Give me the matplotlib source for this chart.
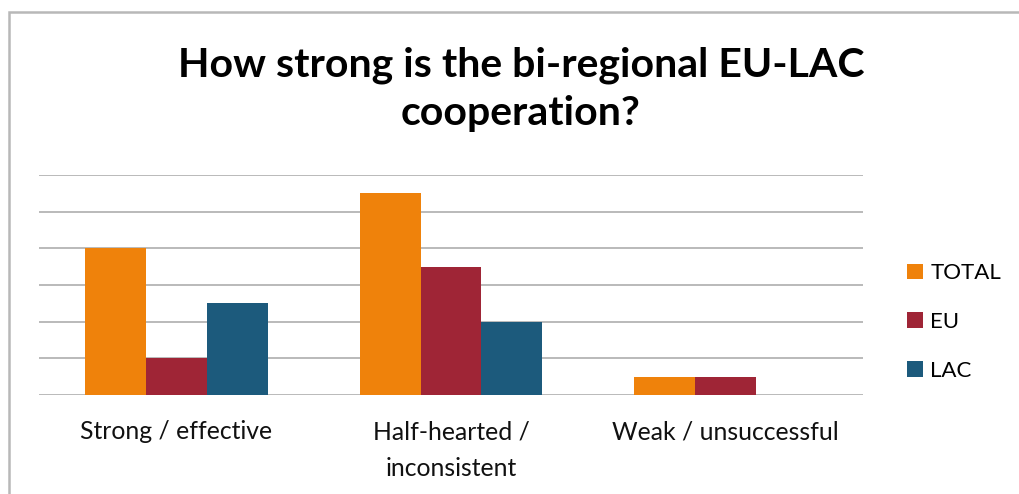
import numpy as np
import matplotlib.pyplot as plt
from matplotlib.patches import Patch, Rectangle

plt.rcParams['font.family'] = ['Lato', 'DejaVu Sans']

categories = ["Strong / effective", "Half-hearted /\ninconsistent", "Weak / unsuccessful"]
series = ["TOTAL", "EU", "LAC"]
total = [4, 5.5, 0.5]
eu = [1, 3.5, 0.5]
lac = [2.5, 2, 0]
colors = ["#EF820B", "#9F2536", "#1C5A7C"]

fig = plt.figure(figsize=(10.19, 4.94), dpi=100)
ax = fig.add_axes([39 / 1019, 99 / 494, 824 / 1019, 220 / 494])

x = np.arange(len(categories))
w = 0.222
for i, (vals, c) in enumerate(zip([total, eu, lac], colors)):
    ax.bar(x + (i - 1) * w, vals, width=w, color=c, zorder=3)

ax.set_xlim(-0.5, 2.5)
ax.set_ylim(0, 6)
ax.set_yticks(range(7))
ax.set_yticklabels([])
ax.grid(axis='y', color='#b4b4b4', linewidth=1.3, zorder=0)
ax.tick_params(axis='y', length=0)
ax.set_xticks(x)
ax.set_xticklabels(categories, fontsize=17.8, color='#111111', linespacing=1.75)
ax.tick_params(axis='x', length=0, pad=18)
for s in ax.spines.values():
    s.set_visible(False)

fig.text(521 / 1019, 1 - 46 / 494, "How strong is the bi-regional EU-LAC\ncooperation?",
         ha='center', va='top', fontsize=29.5, fontweight='bold', linespacing=1.4)

handles = [Patch(facecolor=c, label=s) for s, c in zip(series, colors)]
fig.legend(handles=handles, loc='center left', bbox_to_anchor=(887 / 1019, 1 - 322 / 494),
           frameon=False, fontsize=16, handlelength=0.7, handleheight=0.7,
           handletextpad=0.35, labelspacing=1.3)

# chart frame
fig.patches.append(Rectangle((9 / 1019, -0.1), 1.2, 1 - 12 / 494 + 0.1, transform=fig.transFigure,
                             fill=False, edgecolor='#b8b8b8', linewidth=1.8))

fig.savefig("out.png", dpi=100)
